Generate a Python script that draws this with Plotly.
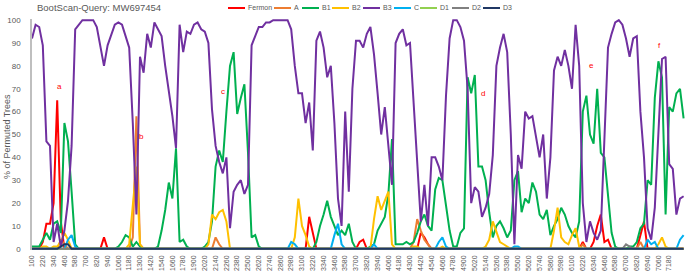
import plotly.graph_objects as go

# ---------------- data ----------------
positions = list(range(100, 7341, 40))          # bootscan window positions (182)
tick_values = list(range(100, 7181, 120))
tick_labels = [str(v) for v in tick_values]

fermon = [0,0,0,3,11,11,20,65,12,0,
          0,0,0,0,0,0,0,0,0,0,
          5,0,0,0,0,0,0,0,0,0,
          0,0,0,0,0,0,0,0,0,0,
          0,0,0,0,0,0,0,0,0,0,
          0,0,0,0,0,0,0,0,0,0,
          0,0,0,0,0,0,0,0,0,0,
          0,0,0,0,0,0,0,14,7,0,
          0,0,0,0,0,0,0,0,0,0,
          0,3,4,0,0,0,0,0,0,0,
          0,0,0,0,0,0,0,0,7,5,
          2,0,0,0,0,0,0,0,0,0,
          0,0,0,0,0,0,0,0,0,0,
          0,0,0,0,0,0,0,0,0,0,
          0,0,0,0,0,0,0,0,0,0,
          0,0,0,3,0,0,3,10,15,3,
          4,0,0,0,0,0,0,0,0,6,
          12,0,0,0,0,0,0,0,0,0,
          0,0]

a_vals = [0,0,0,0,0,0,0,0,4,2,
          0,0,0,0,0,0,0,0,0,0,
          0,0,0,0,0,0,0,0,5,58,
          2,0,0,0,0,0,0,0,0,0,
          0,0,0,0,0,0,0,0,0,0,
          0,5,2,0,0,0,0,0,0,0,
          0,0,0,0,0,0,0,0,0,0,
          0,0,0,0,0,0,0,0,0,0,
          0,0,0,0,0,0,0,0,0,0,
          0,0,0,0,0,0,0,0,0,0,
          0,0,0,0,0,0,3,13,8,4,
          2,0,0,0,0,0,0,0,0,0,
          0,0,0,0,0,0,0,0,0,0,
          0,0,0,0,0,0,0,0,0,0,
          0,0,0,0,0,0,0,0,0,0,
          0,0,0,2,0,0,0,0,0,0,
          0,0,0,0,0,0,0,0,0,3,
          0,0,0,0,0,0,0,0,0,0,
          0,0]

b1 = [1,1,1,4,7,4,11,12,7,55,
      47,25,2,0,0,0,0,0,0,0,
      0,0,0,0,1,3,6,5,1,3,
      1,0,0,0,0,1,8,17,29,22,
      44,3,4,1,0,0,0,0,1,3,
      12,36,43,38,60,80,86,59,66,72,
      42,5,6,1,0,0,0,0,0,0,
      0,0,0,0,0,0,0,0,0,3,
      10,15,21,14,10,6,8,6,11,3,
      0,0,0,0,1,2,8,11,14,24,
      48,2,2,2,3,2,3,7,12,15,
      10,8,26,31,30,18,8,1,1,7,
      9,75,68,76,36,36,30,16,5,10,
      12,9,5,8,30,34,16,22,20,29,
      25,15,13,17,6,10,13,18,15,10,
      7,5,12,60,67,50,46,70,42,40,
      25,7,1,0,0,0,1,1,3,9,
      11,30,28,66,82,75,15,62,60,68,
      70,57]

b2 = [0,0,0,1,1,0,1,1,3,7,
      4,0,0,0,0,0,0,0,0,0,
      0,0,0,0,0,0,0,2,18,36,
      2,0,0,0,0,0,0,0,0,0,
      0,0,0,0,0,0,0,0,0,2,
      15,13,16,17,12,0,0,0,0,0,
      0,0,0,0,0,0,0,0,0,0,
      0,0,0,5,22,10,6,1,0,0,
      0,0,0,0,0,0,0,0,0,0,
      0,0,0,0,0,13,23,17,21,25,
      2,0,0,0,0,0,1,1,0,0,
      0,0,0,0,1,0,0,0,0,0,
      0,0,0,0,0,0,1,4,12,7,
      3,2,1,0,0,0,0,0,0,0,
      0,0,0,0,0,8,18,5,3,2,
      6,9,1,0,0,0,0,0,0,0,
      0,0,0,0,0,0,0,0,0,0,
      0,0,0,0,2,5,1,0,0,0,
      0,0]

b3 = [92,98,97,89,47,45,3,11,1,8,
      21,45,96,98,100,100,100,100,97,88,
      80,89,94,98,99,98,93,88,55,15,
      84,77,94,88,99,96,93,80,70,58,
      44,98,86,95,94,98,99,96,95,90,
      61,45,38,33,40,9,25,28,30,24,
      28,89,93,97,97,99,99,100,100,100,
      100,100,96,80,68,68,55,64,43,91,
      95,88,75,80,55,22,10,60,25,70,
      91,91,88,94,97,85,68,50,62,45,
      28,90,94,96,89,90,65,40,12,28,
      10,40,40,36,30,67,92,100,100,97,
      91,70,20,27,25,14,18,24,41,80,
      88,94,86,50,2,41,35,60,57,58,
      48,40,50,22,40,78,84,80,87,80,
      70,98,80,20,3,12,7,4,8,48,
      88,94,99,100,98,92,84,92,93,60,
      40,9,4,18,50,83,84,37,35,15,
      22,23]

c_vals = [0,0,0,0,0,0,0,0,0,0,
          4,6,1,0,0,0,0,0,0,0,
          0,0,0,0,0,0,0,0,0,0,
          0,0,0,0,0,0,0,0,0,0,
          0,0,0,0,0,0,0,0,0,0,
          0,0,0,0,0,0,0,0,0,0,
          0,0,0,0,0,0,0,0,0,0,
          0,0,3,2,0,0,0,0,0,0,
          0,0,0,0,6,11,2,0,0,0,
          0,0,0,0,0,2,0,0,0,0,
          0,0,0,0,0,0,0,0,0,0,
          0,0,0,3,5,1,0,0,0,0,
          0,0,0,0,0,0,0,0,0,0,
          0,0,0,0,1,1,0,0,0,0,
          0,0,0,0,0,0,0,0,0,0,
          0,0,0,0,0,0,0,0,0,0,
          0,0,0,0,0,0,0,0,0,0,
          0,4,2,3,0,0,0,0,0,0,
          4,6]

d1 = [0] * 182
d2 = [0] * 165 + [2, 1] + [0] * 15
d3 = [0] * 8 + [1, 2, 2] + [0] * 171

series_names = ["Fermon", "A", "B1", "B2", "B3", "C", "D1", "D2", "D3"]
series_values = [fermon, a_vals, b1, b2, b3, c_vals, d1, d2, d3]
series_colors = ["#FF0000", "#ED7D31", "#00B050", "#FFC000", "#7030A0",
                 "#00B0F0", "#92D050", "#808080", "#203864"]

region_labels = ["a", "b", "c", "d", "e", "f"]
region_pos = [403, 1319, 2226, 5114, 6318, 7070]
region_val = [71, 49, 69, 68, 80, 89]

# ---------------- figure ----------------
fig = go.Figure()
for name, vals, col in zip(series_names, series_values, series_colors):
    fig.add_trace(go.Scatter(x=positions, y=vals, mode="lines", name=name,
                             line=dict(color=col, width=2), showlegend=False,
                             hoverinfo="skip"))

W, H = 685, 274
ML, MR, MT, MB = 32, 0, 19, 24
PW, PH = W - ML - MR, H - MT - MB

def px_to_paper_x(px):
    return (px - ML) / PW

def py_to_paper_y(py):
    return (H - MB - py) / PH

gray = "#595959"
font_fam = "Liberation Sans, Arial, sans-serif"

annotations = []
shapes = []

# chart title
annotations.append(dict(xref="paper", yref="paper", x=px_to_paper_x(35), y=py_to_paper_y(8),
                        xanchor="left", yanchor="middle", showarrow=False,
                        text="BootScan-Query: MW697454",
                        font=dict(size=9.5, color=gray, family=font_fam)))
# y axis title
annotations.append(dict(xref="paper", yref="paper", x=px_to_paper_x(7), y=py_to_paper_y(137),
                        xanchor="center", yanchor="middle", showarrow=False, textangle=-90,
                        text="% of Permuted Trees",
                        font=dict(size=9, color=gray, family=font_fam)))

# legend (drawn manually to match compact layout)
legend_starts = [228, 274, 302, 332, 363, 394, 420, 452, 483]
for name, col, px in zip(series_names, series_colors, legend_starts):
    shapes.append(dict(type="line", xref="paper", yref="paper",
                       x0=px_to_paper_x(px), x1=px_to_paper_x(px + 17),
                       y0=py_to_paper_y(8), y1=py_to_paper_y(8),
                       line=dict(color=col, width=2)))
    annotations.append(dict(xref="paper", yref="paper", x=px_to_paper_x(px + 18),
                            y=py_to_paper_y(8), xanchor="left", yanchor="middle",
                            showarrow=False, text=name,
                            font=dict(size=7, color=gray, family=font_fam)))

# region letters
for lab, xp, yv in zip(region_labels, region_pos, region_val):
    annotations.append(dict(xref="x", yref="y", x=xp, y=yv, showarrow=False,
                            text=lab, font=dict(size=8, color="#FF0000", family=font_fam)))

fig.update_layout(
    width=W, height=H,
    margin=dict(l=ML, r=MR, t=MT, b=MB, pad=0, autoexpand=False),
    paper_bgcolor="white", plot_bgcolor="white",
    showlegend=False,
    annotations=annotations, shapes=shapes,
    xaxis=dict(range=[100, 100 + PW / 1.8 * 20], tickmode="array",
               tickvals=tick_values, ticktext=tick_labels, tickangle=-90,
               tickfont=dict(size=7, color=gray, family=font_fam),
               showgrid=False, zeroline=False, showline=False, ticks="",
               ticklabelstandoff=3, automargin=False),
    yaxis=dict(range=[-0.5, 100.5], tickmode="array", tickvals=list(range(0, 101, 10)),
               tickfont=dict(size=8, color=gray, family=font_fam),
               showgrid=False, zeroline=False, showline=True, linecolor="#BFBFBF",
               linewidth=1.5, ticks="", ticklabelstandoff=8, automargin=False),
)

fig.write_html("out.html", config={"displayModeBar": False},
               post_script="document.body.style.margin='0';document.body.style.padding='0';"
                           "document.documentElement.style.overflow='hidden';")
